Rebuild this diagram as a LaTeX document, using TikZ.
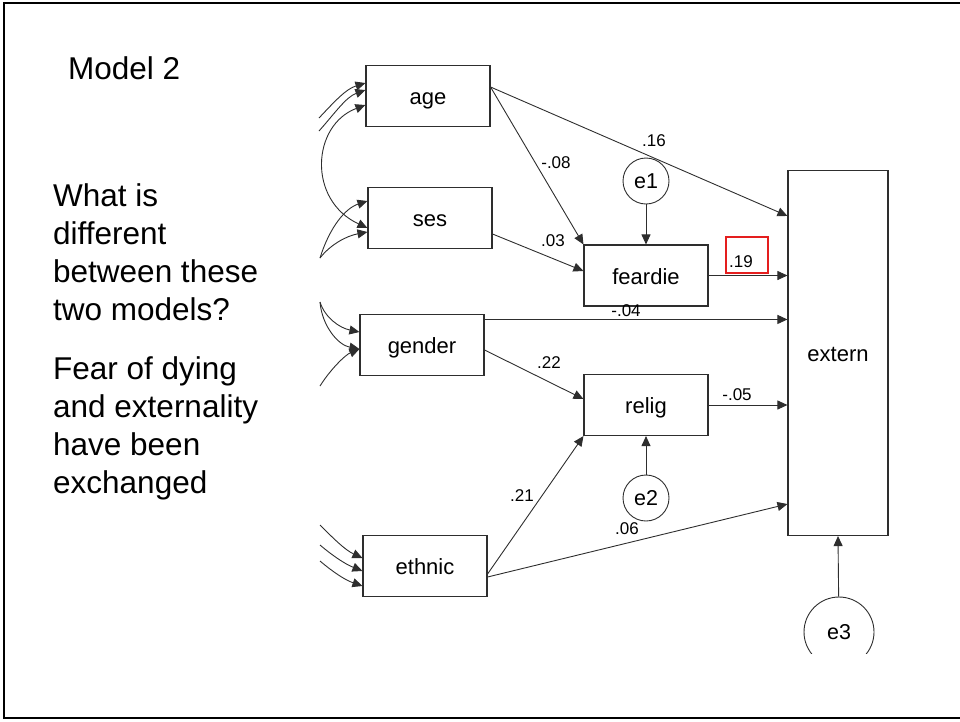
\documentclass[tikz,border=0pt]{standalone}
\usepackage{fontspec}
\setmainfont{Liberation Sans}
\usetikzlibrary{arrows.meta,calc}
\definecolor{linegray}{HTML}{2E2E2E}
\definecolor{markred}{HTML}{E41E1E}
\begin{document}
\begin{tikzpicture}[x=1pt,y=-1pt,
  var/.style={draw=linegray,line width=1.1pt,minimum width=124pt,minimum height=61pt,inner sep=0pt,
    text height=17pt,text depth=0pt,font=\fontsize{22}{26}\selectfont},
  err/.style={draw=linegray,line width=0.9pt,circle,minimum size=46pt,inner sep=0pt,
    text height=15pt,text depth=0pt,font=\fontsize{21.5}{26}\selectfont},
  effect/.style={draw=linegray,line width=0.9pt,-{Triangle[length=10pt,width=9pt]}},
  cov/.style={draw=linegray,line width=0.9pt,{Triangle[length=10pt,width=9pt]}-{Triangle[length=10pt,width=9pt]}},
  coef/.style={font=\fontsize{17}{20}\selectfont,inner sep=0pt},
  slide/.style={font=\fontsize{31.5}{38}\selectfont,anchor=base west,inner sep=0pt}]
\useasboundingbox (0,0) rectangle (960,721);

% slide frame
\draw[line width=2pt] (966,3) -- (4,3) -- (4,718) -- (966,718);

% slide text
\node[slide] (title) at (68,79) {Model 2};
\node[slide] (q1) at (53,206) {What is};
\node[slide] (q2) at (53,244) {different};
\node[slide] (q3) at (53,282) {between these};
\node[slide] (q4) at (53,320) {two models?};
\node[slide] (r1) at (53,379) {Fear of dying};
\node[slide] (r2) at (53,417) {and externality};
\node[slide] (r3) at (53,455) {have been};
\node[slide] (r4) at (53,493) {exchanged};

% observed variables
\node[var] (age) at (428,96) {age};
\node[var] (ses) at (430,218) {ses};
\node[var] (gender) at (422,345) {gender};
\node[var] (ethnic) at (425,566) {ethnic};
\node[var] (feardie) at (646,275.5) {feardie};
\node[var] (relig) at (646,405) {relig};
\node[var,minimum width=100pt,minimum height=365pt] (extern) at (838,353) {extern};

% error terms
\node[err] (e1) at (646,181) {e1};
\node[err] (e2) at (646,498) {e2};
\begin{scope}
  \clip (780,580) rectangle (900,653);
  \node[err,minimum size=70pt] (e3) at (839,632) {e3};
\end{scope}

% structural paths
\coordinate (agestart) at ($(age.east)+(0,-9)$);
\coordinate (genstart) at ($(gender.north east)+(0,5.5)$);
\draw[effect] (agestart) -- ($(extern.north west)+(0,46)$);
\draw[effect] (agestart) -- (feardie.north west);
\draw[effect] ($(ses.east)+(0,16)$) -- ($(feardie.west)+(0,-4.5)$);
\draw[effect] (e1) -- (feardie);
\draw[effect] (feardie.east) -- (feardie.east -| extern.west);
\draw[effect] (genstart) -- (genstart -| extern.west);
\draw[effect] ($(gender.east)+(0,5)$) -- ($(relig.west)+(0,-6)$);
\draw[effect] (relig.east) -- (relig.east -| extern.west);
\draw[effect] (e2) -- (relig);
\draw[effect] ($(ethnic.east)+(0,8)$) -- (relig.south west);
\draw[effect] ($(ethnic.east)+(0,11)$) -- ($(extern.south west)+(0,-32)$);
\draw[effect] (e3) -- (extern.south);

% coefficients
\node[coef] (c16) at (654,141) {.16};
\node[coef] (c08) at (556,163) {-.08};
\node[coef] (c03) at (553,241) {.03};
\node[coef] (c19) at (741,262) {.19};
\node[coef] (c04) at (626,311) {-.04};
\node[coef] (c22) at (549,363) {.22};
\node[coef] (c05) at (737,395) {-.05};
\node[coef] (c21) at (522,496) {.21};
\node[coef] (c06) at (627,529) {.06};
\node[draw=markred,line width=1.6pt,minimum width=42pt,minimum height=36pt,inner sep=0pt] (hl) at (747,255) {};

% exogenous links entering from the left
\coordinate (a1) at (319,118);
\coordinate (a2) at (319,131);
\draw[effect] (a1) .. controls (335,101) and (346,89) .. ($(age.west)+(0,-13)$);
\draw[effect] (a2) .. controls (335,113) and (346,97) .. ($(age.west)+(0,-6)$);
\draw[cov] ($(age.west)+(0,9)$) .. controls (312,125) and (307,200) .. ($(ses.west)+(0,10)$);

\coordinate (s1) at (320,258);
\draw[effect] (s1) .. controls (330,226) and (346,208) .. ($(ses.west)+(0,-17)$);
\draw[effect] (s1) .. controls (330,245) and (346,236) .. ($(ses.west)+(0,14)$);

\coordinate (g1) at (320,302);
\coordinate (g2) at (320,386);
\draw[effect] (g1) .. controls (325,318) and (340,328) .. ($(gender.west)+(0,-13)$);
\draw[effect] (g1) .. controls (322,326) and (338,345) .. ($(gender.west)+(0,4)$);
\draw[effect] (g2) .. controls (330,370) and (345,355) .. ($(gender.west)+(0,4)$);

\coordinate (t1) at (320,525);
\coordinate (t2) at (320,545);
\coordinate (t3) at (320,561);
\draw[effect] (t1) .. controls (333,538) and (345,550) .. ($(ethnic.west)+(0,-8)$);
\draw[effect] (t2) .. controls (333,556) and (345,564) .. ($(ethnic.west)+(0,5)$);
\draw[effect] (t3) .. controls (333,572) and (345,580) .. ($(ethnic.west)+(0,20)$);
\end{tikzpicture}
\end{document}
